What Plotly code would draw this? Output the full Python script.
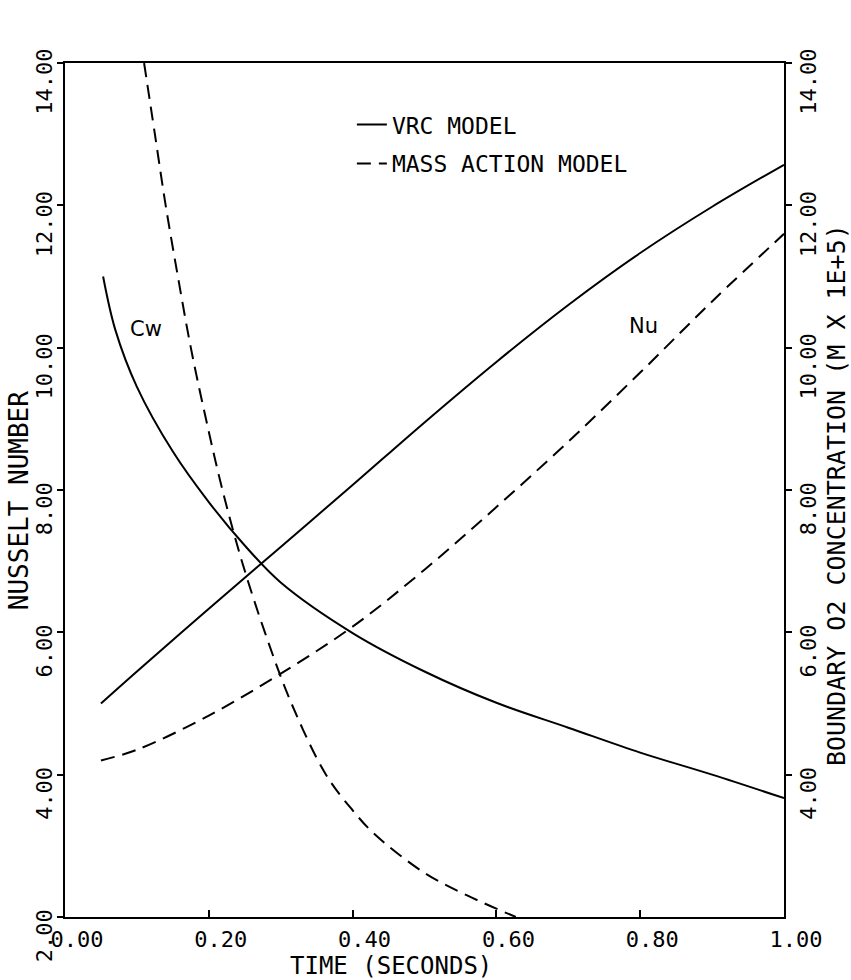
import plotly.graph_objects as go

# ---- data ----
time_nu = [0.05, 0.10, 0.20, 0.30, 0.40, 0.50, 0.60, 0.70, 0.80, 0.90, 1.00]
nu_vrc = [5.00, 5.45, 6.33, 7.20, 8.07, 8.95, 9.80, 10.60, 11.33, 11.98, 12.57]
nu_mass = [4.20, 4.35, 4.83, 5.42, 6.08, 6.88, 7.76, 8.68, 9.65, 10.65, 11.60]

time_cw_vrc = [0.053, 0.07, 0.10, 0.15, 0.20, 0.25, 0.30, 0.40, 0.50, 0.60, 0.70, 0.80, 0.90, 1.00]
cw_vrc = [11.00, 10.25, 9.45, 8.54, 7.83, 7.22, 6.70, 5.99, 5.45, 5.01, 4.66, 4.31, 4.00, 3.67]

time_cw_mass = [0.110, 0.125, 0.140, 0.157, 0.175, 0.196, 0.219, 0.246, 0.278, 0.315, 0.363,
                0.400, 0.430, 0.500, 0.560, 0.627]
cw_mass = [14.00, 13.00, 12.00, 11.00, 10.00, 9.00, 8.00, 7.00, 6.00, 5.00, 4.00,
           3.50, 3.17, 2.62, 2.30, 2.00]

x_ticks = [0.0, 0.2, 0.4, 0.6, 0.8, 1.0]
y_ticks_left = [2, 4, 6, 8, 10, 12, 14]
y_ticks_right = [4, 6, 8, 10, 12, 14]

legend_names = ["VRC MODEL", "MASS ACTION MODEL"]
curve_labels = ["Cw", "Nu"]
x_title = "TIME (SECONDS)"
y_title = "NUSSELT NUMBER"
y2_title = "BOUNDARY O2 CONCENTRATION (M X 1E+5)"

FONT = "DejaVu Sans Mono"
BLACK = "black"

fig = go.Figure()
solid = dict(color=BLACK, width=2, shape="spline")
dashed = dict(color=BLACK, width=2, dash="14px,8px", shape="spline")

fig.add_trace(go.Scatter(x=time_nu, y=nu_vrc, mode="lines", line=solid,
                         name=legend_names[0], legendgroup="a"))
fig.add_trace(go.Scatter(x=time_nu, y=nu_mass, mode="lines", line=dashed,
                         name=legend_names[1], legendgroup="b"))
fig.add_trace(go.Scatter(x=time_cw_vrc, y=cw_vrc, mode="lines", line=solid,
                         yaxis="y2", showlegend=False))
fig.add_trace(go.Scatter(x=time_cw_mass, y=cw_mass, mode="lines", line=dashed,
                         yaxis="y2", showlegend=False))

label_font = dict(family="DejaVu Sans", size=21, color=BLACK)
fig.add_annotation(x=0.113, y=10.26, text=curve_labels[0], showarrow=False, font=label_font)
fig.add_annotation(x=0.805, y=10.30, text=curve_labels[1], showarrow=False, font=label_font)

# axis titles
fig.add_annotation(xref="paper", yref="paper", x=0.453, y=-0.0574, text=x_title, showarrow=False,
                   font=dict(family=FONT, size=24, color=BLACK), xanchor="center", yanchor="middle")
fig.add_annotation(xref="paper", yref="paper", x=-0.064, y=0.488, text=y_title, showarrow=False,
                   textangle=-90, font=dict(family=FONT, size=26, color=BLACK),
                   xanchor="center", yanchor="middle")
fig.add_annotation(xref="paper", yref="paper", x=1.0723, y=0.494, text=y2_title, showarrow=False,
                   textangle=-90, font=dict(family=FONT, size=25, color=BLACK),
                   xanchor="center", yanchor="middle")

tickfont = dict(family=FONT, size=22, color=BLACK)
axis_common = dict(tickformat=".2f", tickcolor=BLACK, tickwidth=2, showline=True,
                   linecolor=BLACK, linewidth=2, showgrid=False, zeroline=False, tickfont=tickfont)
fig.update_layout(
    width=851, height=980,
    margin=dict(l=65, r=67, t=63, b=63),
    plot_bgcolor="white", paper_bgcolor="white",
    showlegend=True,
    legend=dict(x=0.399, y=0.953, xanchor="left", yanchor="top", bgcolor="rgba(0,0,0,0)",
                font=dict(family=FONT, size=23, color=BLACK), tracegroupgap=6),
    xaxis=dict(axis_common, range=[0, 1], tickvals=x_ticks, ticks="inside", ticklen=7,
               mirror=True, ticklabelshift=12, ticklabelstandoff=2),
    yaxis=dict(axis_common, range=[2, 14], tickvals=y_ticks_left, ticks="outside", ticklen=6,
               tickangle=-90, ticklabelshift=22, ticklabelstandoff=-4),
    yaxis2=dict(axis_common, range=[2, 14], tickvals=y_ticks_right, ticks="outside", ticklen=6,
                overlaying="y", side="right", tickangle=-90, ticklabelshift=22,
                ticklabelstandoff=-2),
)

fig.write_html("out.html")
